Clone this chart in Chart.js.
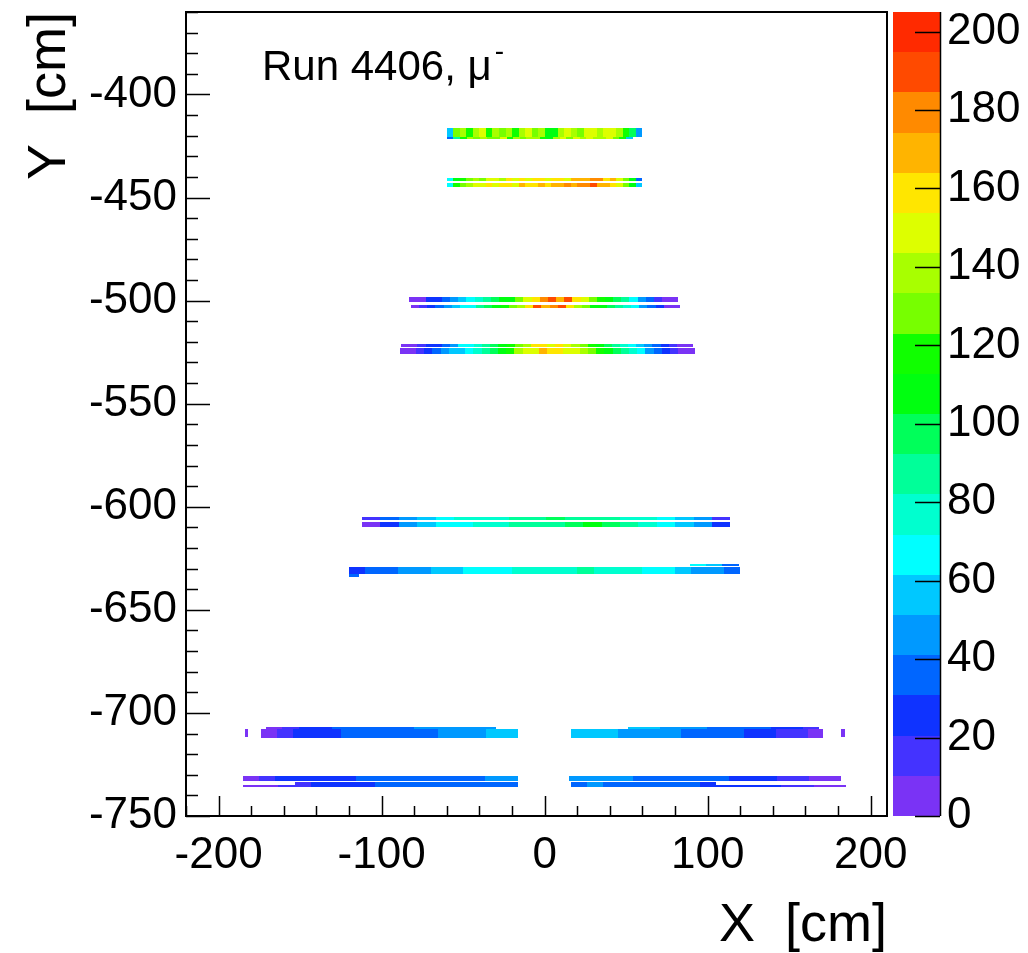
<!DOCTYPE html>
<html>
<head>
<meta charset="utf-8">
<script src="https://cdn.jsdelivr.net/npm/chart.js@4.4.1/dist/chart.umd.min.js"></script>
<style>
  html, body { margin: 0; padding: 0; background: #fff; }
  #wrap { position: relative; width: 1028px; height: 953px; }
</style>
</head>
<body>
<div id="wrap"><canvas id="hist" width="1028" height="953"></canvas></div>
<script>
const FONT = '"Liberation Sans", Arial, Helvetica, sans-serif';

// axis ranges and tick values
const xRange = [-220, 210];
const yRange = [-750, -360];
const zRange = [0, 205];
const xTicks = [-200, -100, 0, 100, 200];
const yTicks = [-750, -700, -650, -600, -550, -500, -450, -400];
const zTicks = [0, 20, 40, 60, 80, 100, 120, 140, 160, 180, 200];
const nContours = 20;

// colour per contour level, lowest first
const palette = ['#7a33f5', '#4433ff', '#0f33ff', '#0066ff', '#0099ff', '#00c8ff', '#00ffff',
  '#00ffcf', '#00ff99', '#00ff5a', '#00ff10', '#10ff00', '#77ff00', '#a8ff00', '#ddff00',
  '#ffe600', '#ffb400', '#ff8a00', '#ff4a00', '#ff2a00'];

// counts along each row of bins, left to right
const rowA1 = [60, 125, 140, 115, 135, 145, 120, 138, 128, 142, 118, 135, 148, 125, 140,
  112, 110, 135, 150, 140, 132, 148, 152, 138, 145, 150, 140, 120, 95, 45];
const rowA2 = [40, 85, 120, 135, 128, 140, 125, 132, 145, 122, 138, 130, 142, 135,
  115, 112, 140, 150, 130, 145, 138, 150, 142, 135, 148, 130, 120, 60];
const rowB1 = [70, 110, 118, 125, 140, 132, 145, 150, 138, 155, 148, 160, 150, 158, 162,
  145, 155, 160, 150, 168, 172, 165, 180, 175, 160, 168, 150, 130, 110, 35];
const rowB2 = [65, 115, 125, 138, 145, 150, 155, 148, 162, 158, 150, 165, 160, 155, 168,
  158, 165, 170, 175, 168, 182, 178, 185, 172, 165, 160, 150, 125, 110, 60];
const rowC1 = [5, 8, 22, 30, 38, 45, 55, 68, 75, 88, 98, 110, 112, 125, 145, 160, 175,
  190, 170, 185, 160, 145, 130, 120, 108, 95, 85, 70, 45, 35, 15, 8, 5];
const rowC2 = [6, 12, 25, 35, 45, 55, 65, 70, 85, 100, 110, 118, 130, 140, 160, 190, 165,
  175, 185, 155, 140, 125, 112, 110, 100, 90, 80, 65, 50, 35, 22, 10, 6];
const rowD1 = [5, 8, 15, 22, 30, 40, 50, 62, 70, 78, 88, 98, 108, 118, 130, 140, 155, 160,
  150, 158, 145, 140, 125, 120, 108, 98, 88, 75, 68, 55, 45, 32, 22, 12, 8, 5];
const rowD2 = [6, 10, 18, 25, 35, 42, 52, 60, 68, 78, 88, 100, 112, 120, 135, 145, 150, 165,
  155, 160, 150, 145, 138, 125, 118, 105, 95, 85, 72, 62, 50, 40, 28, 18, 10, 6];
const rowE1 = [15, 35, 50, 60, 65, 72, 75, 78, 85, 90, 95, 92, 88, 85, 80, 75, 70, 60, 45, 12];
const rowE2 = [10, 30, 48, 58, 65, 70, 75, 80, 82, 85, 88, 95, 105, 102, 90, 80, 70, 60, 45, 25];
const rowF1 = [70, 55, 40];
const rowF2 = [25, 35, 40, 45, 50, 55, 58, 62, 65, 70, 72, 75, 78, 80, 82, 80, 78, 72, 68, 62, 58, 50, 45, 35];
const rowF3 = [40];
const rowG1 = [10, 20, 28, 30, 32, 35, 36, 38, 40, 42, 45, 48, 50, 45];
const rowG2 = [8, 18, 25, 28, 30, 32, 33, 35, 36, 38, 40, 42, 45, 48, 55, 58];
const rowG3 = [55, 52, 50, 45, 42, 40, 38, 35, 32, 28, 22, 15];
const rowG4 = [55, 58, 52, 50, 48, 45, 42, 40, 38, 35, 32, 30, 28, 20, 12, 8];
const rowG5 = [5];
const rowG6 = [5];
const rowH1 = [8, 15, 22, 25, 28, 30, 30, 32, 33, 35, 35, 37, 38, 40, 40, 42, 45];
const rowH2 = [20, 25, 28, 30, 30, 32, 33, 35, 35, 36, 38, 40, 38, 35];
const rowH3 = [5, 10, 12];
const rowH4 = [45, 48, 45, 42, 40, 38, 36, 35, 33, 32, 30, 28, 25, 20, 15, 10, 6];
const rowH5 = [40, 42, 40, 38, 36, 35, 34, 32, 30];
const rowH6 = [28, 25, 24, 22, 18, 14, 10, 6];

// bin edges of each row: [x low, x high, y low, y high] in cm
const rowEdges = [
  [-60, 60, -420.4, -416.5], [-60, 54, -421.8, -420.6],
  [-60, 60, -442.1, -440.3], [-60, 60, -445.0, -442.9],
  [-83, 82, -500.8, -498.2], [-82, 83, -503.4, -502.0],
  [-88, 91, -522.3, -520.9], [-89, 92, -526.0, -523.0],
  [-112, 114, -606.6, -605.0], [-112, 114, -609.8, -607.6],
  [89, 119, -628.6, -627.7], [-120, 120, -632.8, -629.4], [-120, -114, -634.0, -632.8],
  [-171, -30, -707.6, -706.8], [-174, -16.5, -712.0, -707.8],
  [51, 168, -707.6, -706.8], [16, 171, -712.0, -707.8],
  [-184, -182, -711.5, -708.0], [182, 184, -711.5, -708.0],
  [-185, -16.5, -732.8, -730.6], [-153, -16.5, -736.0, -733.3], [-185, -153, -736.0, -734.8],
  [15, 182, -732.8, -730.6], [16, 105, -736.0, -733.3], [105, 185, -736.0, -734.8]
];
const rowCounts = [rowA1, rowA2, rowB1, rowB2, rowC1, rowC2, rowD1, rowD2, rowE1, rowE2,
  rowF1, rowF2, rowF3, rowG1, rowG2, rowG3, rowG4, rowG5, rowG6,
  rowH1, rowH2, rowH3, rowH4, rowH5, rowH6];

function levelColor(v) {
  const step = (zRange[1] - zRange[0]) / nContours;
  const k = Math.min(nContours - 1, Math.max(0, Math.floor((v - zRange[0]) / step)));
  return palette[k];
}

// one dataset per row; each point is a bin centre with its width and height
const datasets = rowCounts.map((counts, r) => {
  const [x0, x1, y0, y1] = rowEdges[r];
  const w = (x1 - x0) / counts.length;
  return {
    data: counts.map((v, i) => ({ x: x0 + (i + 0.5) * w, y: (y0 + y1) / 2, v, w, h: y1 - y0 })),
    pointRadius: 0,
    showLine: false
  };
});

// filled bins
const binPlugin = {
  id: 'bins',
  beforeDatasetsDraw(chart) {
    const { ctx, chartArea: a, scales: { x, y } } = chart;
    ctx.save();
    ctx.beginPath();
    ctx.rect(a.left, a.top, a.width, a.height);
    ctx.clip();
    chart.data.datasets.forEach(ds => {
      ds.data.forEach(d => {
        if (d.v <= 0) return;
        const px0 = Math.round(x.getPixelForValue(d.x - d.w / 2));
        const px1 = Math.round(x.getPixelForValue(d.x + d.w / 2));
        const py0 = Math.round(y.getPixelForValue(d.y + d.h / 2));
        const py1 = Math.round(y.getPixelForValue(d.y - d.h / 2));
        ctx.fillStyle = levelColor(d.v);
        ctx.fillRect(px0, py0, px1 - px0, Math.max(1, py1 - py0));
      });
    });
    ctx.restore();
  }
};

// frame, tick marks, palette bar and the run label
const framePlugin = {
  id: 'frame',
  afterDatasetsDraw(chart) {
    const { ctx, chartArea: a, scales: { x, y, z } } = chart;
    ctx.save();
    ctx.strokeStyle = '#000';
    ctx.lineWidth = 2;
    ctx.strokeRect(a.left, a.top, a.width, a.height);

    ctx.lineWidth = 1.5;
    ctx.beginPath();
    for (let v = -220; v <= 210; v += 20) {
      const px = Math.round(x.getPixelForValue(v)) + 0.5;
      const len = v % 100 === 0 ? 20 : 10;
      ctx.moveTo(px, a.bottom);
      ctx.lineTo(px, a.bottom - len);
    }
    for (let v = -750; v <= -360; v += 10) {
      const py = Math.round(y.getPixelForValue(v)) + 0.5;
      const len = v % 50 === 0 ? 24 : 12;
      ctx.moveTo(a.left, py);
      ctx.lineTo(a.left + len, py);
    }
    ctx.stroke();

    // palette bar
    const barL = z.left + 6, barR = z.left + 53;
    const step = (zRange[1] - zRange[0]) / nContours;
    for (let k = 0; k < nContours; k++) {
      const top = Math.round(z.getPixelForValue(zRange[0] + (k + 1) * step));
      const bot = Math.round(z.getPixelForValue(zRange[0] + k * step));
      ctx.fillStyle = palette[k];
      ctx.fillRect(barL, top, barR - barL, bot - top);
    }
    ctx.lineWidth = 1.5;
    ctx.beginPath();
    ctx.moveTo(barR + 0.5, z.top);
    ctx.lineTo(barR + 0.5, z.bottom);
    zTicks.forEach(v => {
      const py = Math.round(z.getPixelForValue(v)) + 0.5;
      ctx.moveTo(barR, py);
      ctx.lineTo(barR - 25, py);
    });
    ctx.stroke();

    // run label
    ctx.fillStyle = '#000';
    ctx.textBaseline = 'alphabetic';
    ctx.font = '42px ' + FONT;
    const lx = a.left + 76, ly = 80;
    const main = 'Run 4406, \u03bc';
    ctx.fillText(main, lx, ly);
    const sx = lx + ctx.measureText(main).width + 3;
    ctx.font = '28px ' + FONT;
    ctx.fillText('-', sx, ly - 20);
    ctx.restore();
  }
};

// keep the plot frame where the axis boxes put it, ignoring label overhang
function noOverhang(s) {
  s.paddingTop = 0;
  s.paddingBottom = 0;
  s.paddingLeft = 0;
  s.paddingRight = 0;
}

const tickFont = { family: FONT, size: 44 };
const titleFont = { family: FONT, size: 54, lineHeight: 1 };

new Chart(document.getElementById('hist'), {
  type: 'scatter',
  data: { datasets },
  options: {
    responsive: false,
    animation: false,
    events: [],
    layout: { padding: { top: 12, left: 0, right: 0, bottom: 0 } },
    plugins: { legend: { display: false }, tooltip: { enabled: false } },
    scales: {
      x: {
        type: 'linear', position: 'bottom', min: xRange[0], max: xRange[1],
        grid: { display: false, drawTicks: false }, border: { display: false },
        afterBuildTicks: s => { s.ticks = xTicks.map(v => ({ value: v })); },
        afterFit: s => { s.height = 137; noOverhang(s); },
        ticks: { font: tickFont, color: '#000', padding: 13, maxRotation: 0, autoSkip: false },
        title: { display: true, text: 'X  [cm]', align: 'end', font: titleFont, color: '#000', padding: { top: 0, bottom: 0 } }
      },
      y: {
        type: 'linear', position: 'left', min: yRange[0], max: yRange[1],
        grid: { display: false, drawTicks: false }, border: { display: false },
        afterBuildTicks: s => { s.ticks = yTicks.map(v => ({ value: v })); },
        afterFit: s => { s.width = 186; noOverhang(s); },
        ticks: { font: tickFont, color: '#000', padding: 9, autoSkip: false },
        title: { display: true, text: 'Y  [cm]', align: 'end', font: titleFont, color: '#000', padding: { top: 23, bottom: 0 } }
      },
      z: {
        type: 'linear', position: 'right', min: zRange[0], max: zRange[1],
        grid: { display: false, drawTicks: false }, border: { display: false },
        afterBuildTicks: s => { s.ticks = zTicks.map(v => ({ value: v })); },
        afterFit: s => { s.width = 141; noOverhang(s); },
        ticks: { font: tickFont, color: '#000', padding: 60, autoSkip: false }
      }
    }
  },
  plugins: [binPlugin, framePlugin]
});
</script>
</body>
</html>
